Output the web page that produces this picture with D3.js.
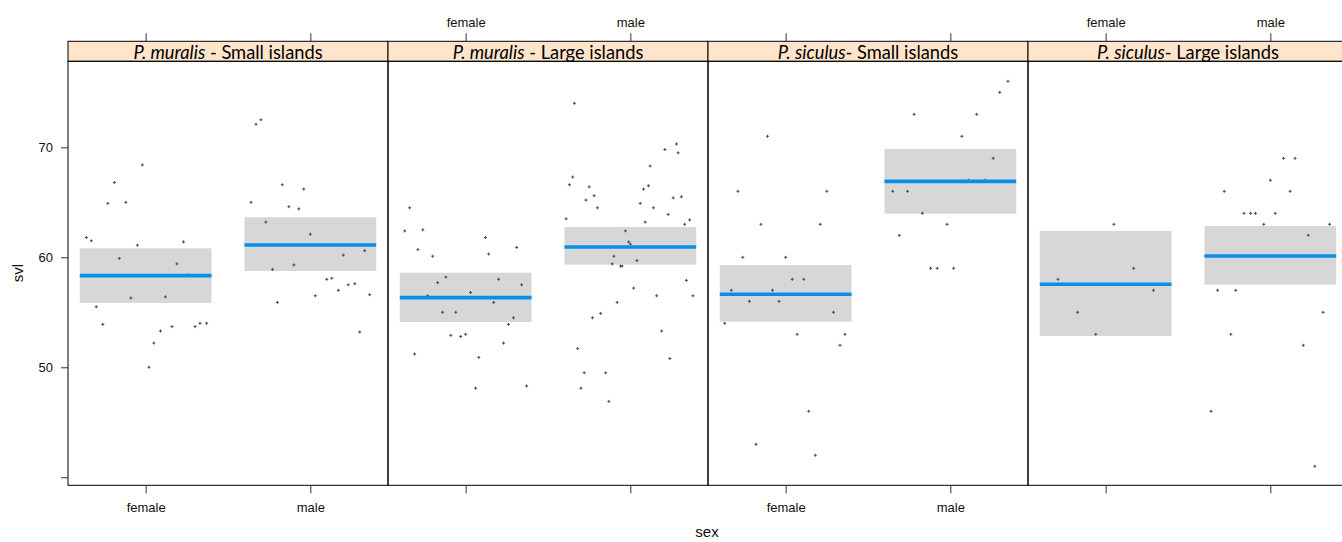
<!DOCTYPE html>
<html>
<head>
<meta charset="utf-8">
<script src="https://cdn.jsdelivr.net/npm/d3@7"></script>
<style>
  html, body { margin: 0; padding: 0; background: #fff; }
  svg { display: block; }
</style>
</head>
<body>
<svg id="chart" width="1342" height="542"></svg>
<script>
// ---------------- data ----------------
const species = ["P. muralis", "P. muralis", "P. siculus", "P. siculus"];
const islandText = [" - Small islands", " - Large islands", "- Small islands", "- Large islands"];
const sexLevels = ["female", "male"];

// effect estimates per panel: [female, male]
const fitValues   = [[58.33, 61.12], [56.33, 60.94], [56.64, 66.90], [57.55, 60.12]];
const lowerValues = [[55.85, 58.75], [54.12, 59.33], [54.15, 63.96], [52.85, 57.51]];
const upperValues = [[60.82, 63.64], [58.60, 62.75], [59.30, 69.85], [62.39, 62.85]];

const yTicks = [40, 50, 60, 70];
const yTickLabels = ["", "50", "60", "70"];

// partial residual points: [jitter offset from sex level, svl]
const pmSmallFemale = [[-0.36,61.8],[-0.33,61.5],[-0.19,66.8],[-0.23,64.9],[-0.12,65.0],[-0.02,68.4],[-0.05,61.1],[-0.16,59.9],[0.23,61.4],[0.19,59.4],[0.26,58.4],[-0.09,56.3],[0.12,56.4],[-0.30,55.5],[-0.26,53.9],[0.16,53.7],[0.30,53.7],[0.33,54.0],[0.37,54.0],[0.09,53.3],[0.05,52.2],[0.02,50.0]];
const pmSmallMale = [[-0.36,65.0],[-0.27,63.2],[-0.17,66.6],[-0.13,64.6],[-0.04,66.2],[-0.07,64.4],[0,62.1],[-0.23,58.9],[-0.10,59.3],[0.20,60.2],[0.33,60.6],[0.10,58.0],[0.13,58.1],[0.23,57.5],[0.27,57.6],[0.17,57.0],[0.03,56.5],[0.36,56.6],[-0.20,55.9],[0.30,53.2],[-0.33,72.1],[-0.30,72.5]];
const pmLargeFemale = [[-0.34,64.5],[-0.37,62.4],[-0.26,62.5],[-0.29,60.7],[-0.20,60.1],[0.12,61.8],[0.14,60.3],[0.31,60.9],[-0.12,58.2],[-0.17,57.7],[0.20,58.0],[0.34,57.5],[-0.23,56.5],[0.03,56.8],[0.17,55.9],[-0.14,55.0],[-0.06,55.0],[0.29,54.5],[0.26,53.9],[-0.09,52.9],[-0.03,52.8],[0.00,53.0],[0.23,52.2],[-0.31,51.2],[0.08,50.9],[0.06,48.1],[0.37,48.3]];
const pmLargeMale = [[-0.32,51.7],[-0.28,49.5],[-0.15,49.5],[-0.30,48.1],[-0.13,46.9],[0.19,53.3],[0.24,50.8],[0.28,70.3],[0.21,69.8],[0.29,69.5],[0.12,68.3],[-0.35,67.3],[-0.37,66.6],[-0.25,66.4],[-0.22,65.6],[-0.27,65.2],[-0.20,64.5],[0.08,66.2],[0.11,66.5],[0.06,64.9],[0.14,64.5],[0.26,65.4],[0.31,65.5],[0.23,63.9],[0.09,63.2],[0.36,63.4],[0.33,63.0],[-0.39,63.5],[-0.03,62.4],[-0.01,61.4],[0,61.2],[-0.10,60.1],[-0.11,59.4],[-0.06,59.2],[-0.05,59.2],[0.04,59.7],[0.34,57.9],[0.02,57.2],[0.16,56.5],[0.38,56.5],[-0.08,55.9],[-0.18,54.9],[-0.23,54.5],[-0.34,74.0]];
const psSmallFemale = [[-0.11,71],[-0.29,66],[0.25,66],[-0.15,63],[0.21,63],[-0.26,60],[0,60],[0.04,58],[0.11,58],[-0.33,57],[-0.08,57],[-0.22,56],[-0.04,56],[0.29,55],[-0.37,54],[0.07,53],[0.36,53],[0.33,52],[0.14,46],[-0.18,43],[0.18,42]];
const psSmallMale = [[0.35,76],[0.30,75],[-0.22,73],[0.16,73],[0.07,71],[0.26,69],[0.11,67],[0.21,67],[-0.35,66],[-0.26,66],[-0.17,64],[-0.02,63],[-0.31,62],[-0.12,59],[-0.08,59],[0.02,59]];
const psLargeFemale = [[0.05,63],[-0.29,58],[0.17,59],[0.29,57],[-0.17,55],[-0.06,53]];
const psLargeMale = [[0.08,69],[0.15,69],[0,67],[-0.28,66],[0.12,66],[-0.16,64],[-0.12,64],[-0.09,64],[0.03,64],[-0.04,63],[0.36,63],[0.23,62],[-0.32,57],[-0.21,57],[0.32,55],[-0.24,53],[0.20,52],[-0.36,46],[0.27,41]];

const pointSets = [
  [pmSmallFemale, pmSmallMale],
  [pmLargeFemale, pmLargeMale],
  [psSmallFemale, psSmallMale],
  [psLargeFemale, psLargeMale]
];

// ---------------- layout ----------------
const svg = d3.select("#chart");
const panelLeft = 68, panelW = 320;
const stripTop = 41.3, plotTop = 61.3, plotBottom = 485.3;
const axisFont = "'Liberation Sans', Arial, sans-serif";
const stripFont = "Lato, 'Open Sans', sans-serif";

const y = d3.scaleLinear().domain([39.27, 77.82]).range([plotBottom, plotTop]);
const sexPos = d3.scalePoint().domain(sexLevels).range([0, panelW]).padding(0.4715);
const step = sexPos.step();

svg.append("defs").append("clipPath").attr("id", "plotclip")
  .append("rect").attr("x", 0).attr("y", plotTop).attr("width", panelW).attr("height", plotBottom - plotTop);

species.forEach((sp, i) => {
  const g = svg.append("g").attr("transform", `translate(${panelLeft + i * panelW},0)`);
  const x = v => sexPos(v);

  // strip
  g.append("rect").attr("x", 0).attr("y", stripTop).attr("width", panelW).attr("height", plotTop - stripTop)
    .attr("fill", "#ffe5cc").attr("stroke", "#000").attr("stroke-width", 1);
  const t = g.append("text").attr("x", panelW / 2).attr("y", 58.6).attr("text-anchor", "middle")
    .attr("font-family", stripFont).attr("font-size", 18.3).attr("fill", "#000");
  t.append("tspan").attr("font-style", "italic").text(sp);
  t.append("tspan").text(islandText[i]);

  const inner = g.append("g").attr("clip-path", "url(#plotclip)");

  // confidence bands
  sexLevels.forEach((s, k) => {
    inner.append("rect")
      .attr("x", x(s) - 0.4 * step).attr("width", 0.8 * step)
      .attr("y", y(upperValues[i][k])).attr("height", y(lowerValues[i][k]) - y(upperValues[i][k]))
      .attr("fill", "#d7d7d7");
  });

  // points
  sexLevels.forEach((s, k) => {
    inner.selectAll(null).data(pointSets[i][k]).enter().append("path")
      .attr("transform", d => `translate(${x(s) + d[0] * step},${y(d[1])})`)
      .attr("d", "M-1.5,0H1.5M0,-1.5V1.5")
      .attr("stroke", "#4a4a4a").attr("stroke-width", 1).attr("fill", "none");
  });

  // fitted lines
  sexLevels.forEach((s, k) => {
    inner.append("line")
      .attr("x1", x(s) - 0.4 * step).attr("x2", x(s) + 0.4 * step)
      .attr("y1", y(fitValues[i][k])).attr("y2", y(fitValues[i][k]))
      .attr("stroke", "#0890e8").attr("stroke-width", 3.6);
  });

  // panel border
  g.append("rect").attr("x", 0).attr("y", plotTop).attr("width", panelW).attr("height", plotBottom - plotTop)
    .attr("fill", "none").attr("stroke", "#000").attr("stroke-width", 1);

  // bottom ticks (labels on panels 1 & 3)
  const bottomAxis = d3.axisBottom(sexPos).tickSize(8).tickPadding(9)
    .tickFormat(i % 2 === 0 ? (d => d) : () => "");
  const bax = g.append("g").attr("transform", `translate(0,${plotBottom})`).call(bottomAxis);
  // top ticks (labels on panels 2 & 4)
  const topAxis = d3.axisTop(sexPos).tickSize(8).tickPadding(6)
    .tickFormat(i % 2 === 1 ? (d => d) : () => "");
  const tax = g.append("g").attr("transform", `translate(0,${stripTop})`).call(topAxis);
  [bax, tax].forEach(a => {
    a.select(".domain").remove();
    a.selectAll(".tick line").attr("stroke", "#333");
    a.selectAll(".tick text").attr("font-family", axisFont).attr("font-size", 13).attr("fill", "#111");
  });
});

// left axis
const leftAxis = d3.axisLeft(y).tickValues(yTicks).tickSize(7).tickPadding(8)
  .tickFormat((d, k) => yTickLabels[k]);
const lax = svg.append("g").attr("transform", `translate(${panelLeft},0)`).call(leftAxis);
lax.select(".domain").remove();
lax.selectAll(".tick line").attr("stroke", "#333");
lax.selectAll(".tick text").attr("font-family", axisFont).attr("font-size", 13).attr("fill", "#111");

// axis titles
svg.append("text").attr("transform", "translate(23,273) rotate(-90)").attr("text-anchor", "middle")
  .attr("font-family", axisFont).attr("font-size", 15).attr("fill", "#111").text("svl");
svg.append("text").attr("x", 707).attr("y", 537).attr("text-anchor", "middle")
  .attr("font-family", axisFont).attr("font-size", 15).attr("fill", "#111").text("sex");
</script>
</body>
</html>
